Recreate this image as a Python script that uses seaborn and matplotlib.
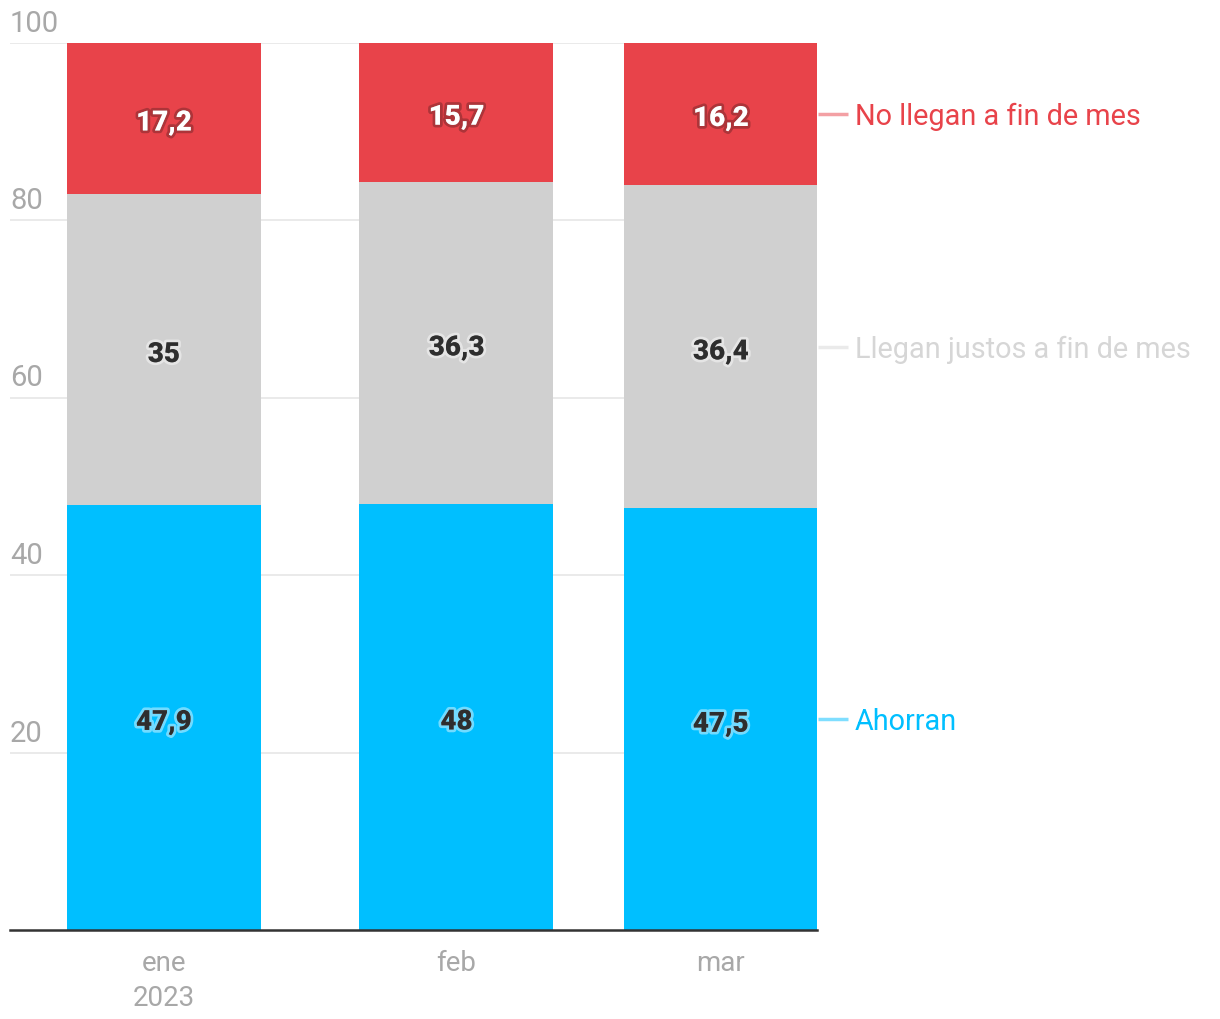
import numpy as np
import pandas as pd
import matplotlib
matplotlib.use("Agg")
import matplotlib.pyplot as plt
import matplotlib.patheffects as pe
import matplotlib.transforms as mtransforms
import seaborn as sns

# ── 데이터 ─────────────────────────────────────────────
months      = ["ene\n2023", "feb", "mar"]
month_days  = [0, 31, 59]          # días desde 1 ene 2023
ahorran     = [47.9, 48.0, 47.5]
justos      = [35.0, 36.3, 36.4]
no_llegan   = [17.2, 15.7, 16.2]
series      = ["Ahorran", "Llegan justos a fin de mes", "No llegan a fin de mes"]
colors      = {"Ahorran": "#00BFFF",
               "Llegan justos a fin de mes": "#D0D0D0",
               "No llegan a fin de mes": "#E8434A"}
yticks      = [20, 40, 60, 80, 100]

sns.set_style("white")
plt.rcParams["font.family"] = ["Roboto", "DejaVu Sans"]

vals = np.array([ahorran, justos, no_llegan])
tops = vals.cumsum(axis=0)
bottoms = tops - vals

rows = []
for s, top in zip(series, tops):
    for d, t in zip(month_days, top):
        rows.append({"day": d, "top": t, "serie": s})
df = pd.DataFrame(rows)

fig = plt.figure(figsize=(12.2, 10.2), dpi=100)
ax = fig.add_axes([10/1220, 89/1020, 807/1220, 887.5/1020])

# dibujar de arriba hacia abajo (acumulado) para apilar
sns.barplot(data=df, x="day", y="top", hue="serie",
            hue_order=series[::-1], palette=colors, dodge=False,
            native_scale=True, width=0.734, errorbar=None,
            legend=False, saturation=1, linewidth=0, ax=ax)

ax.set_xlim(-16.3, 69.2)
ax.set_ylim(0, 100)
ax.set_xlabel("")
ax.set_ylabel("")

# grid y etiquetas del eje y
ax.set_yticks(yticks)
ax.set_yticklabels([])
ax.tick_params(axis="y", length=0)
ax.yaxis.grid(True, color="#E6E6E6", linewidth=1.2)
ax.set_axisbelow(True)
trans_y = mtransforms.blended_transform_factory(ax.transAxes, ax.transData)
trans_y = trans_y + mtransforms.ScaledTranslation(0, 6/100, fig.dpi_scale_trans)
for t in yticks:
    ax.text(0.0, t, str(t), transform=trans_y, ha="left", va="bottom",
            fontsize=21, color="#A8A8A8")

for sp in ["top", "right", "left"]:
    ax.spines[sp].set_visible(False)
ax.spines["bottom"].set_color("#333333")
ax.spines["bottom"].set_linewidth(1.8)

ax.set_xticks(month_days)
ax.set_xticklabels(months, fontsize=20, color="#A8A8A8", linespacing=1.35)
ax.tick_params(axis="x", length=0, pad=14)

# etiquetas dentro de las barras
dark_halo = [pe.withStroke(linewidth=4, foreground=(0.25, 0.1, 0.1, 0.35))]
light_halo = [pe.withStroke(linewidth=4, foreground=(1, 1, 1, 0.45))]
down = ax.transData + mtransforms.ScaledTranslation(0, -5/100, fig.dpi_scale_trans)
for i, s in enumerate(series):
    for d, v, b in zip(month_days, vals[i], bottoms[i]):
        txt = f"{v:g}".replace(".", ",")
        if s == "No llegan a fin de mes":
            col, eff = "white", dark_halo
        else:
            col, eff = "#2E2E2E", light_halo
        ax.text(d, b + v / 2, txt, ha="center", va="center", fontsize=20,
                fontweight="heavy", color=col, path_effects=eff, transform=down)

# leyenda directa a la derecha
text_colors = ["#00BFFF", "#D6D6D6", "#E8434A"]
x_last = month_days[-1] + 20.56 / 2
down2 = ax.transData + mtransforms.ScaledTranslation(0, -2/100, fig.dpi_scale_trans)
for i, s in enumerate(series):
    yc = bottoms[i][-1] + vals[i][-1] / 2
    ax.plot([x_last, x_last + 3.2], [yc, yc], color=text_colors[i],
            alpha=0.5, linewidth=2.5, clip_on=False, solid_capstyle="butt")
    ax.text(x_last + 3.9, yc, s, ha="left", va="center", fontsize=20.8,
            color=text_colors[i], transform=down2)

fig.savefig("out.png", dpi=100)
